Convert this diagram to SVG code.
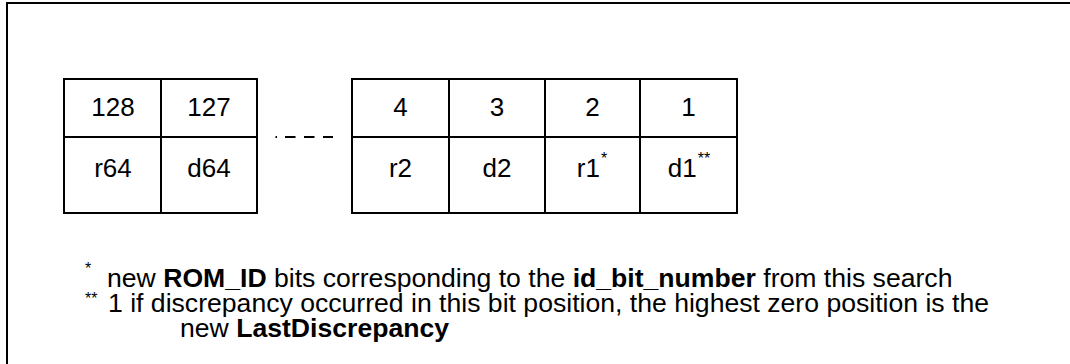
<svg xmlns="http://www.w3.org/2000/svg" width="1070" height="364" viewBox="0 0 1070 364">
  <style>
    .ln{fill:none;stroke:#000;stroke-width:2}
    text{font-family:"Liberation Sans",Arial,Helvetica,sans-serif;font-size:26px;fill:#000}
    .c{text-anchor:middle}
    .s{font-size:16px}
    .bd{font-weight:bold}
    .n{font-size:26.6px}
  </style>

  <!-- outer frame (only left and top edges fall inside the page) -->
  <path id="frame" class="ln" d="M7,366 V3 H1072"/>

  <!-- high-order bit pairs -->
  <g id="table-high">
    <rect class="ln" x="64" y="79" width="193" height="134"/>
    <line class="ln" x1="161" y1="79" x2="161" y2="213"/>
    <line class="ln" x1="64" y1="137" x2="257" y2="137"/>
    <text class="c" x="113" y="116">128</text>
    <text class="c" x="209" y="116">127</text>
    <text class="c" x="113" y="177">r64</text>
    <text class="c" x="209" y="177">d64</text>
  </g>

  <!-- continuation marks between the two tables -->
  <g id="ellipsis">
    <rect x="275.5" y="136" width="1.5" height="2" fill="#000"/>
    <line class="ln" x1="285" y1="137" x2="333" y2="137" stroke-dasharray="10.5 8.5"/>
  </g>

  <!-- low-order bit pairs -->
  <g id="table-low">
    <rect class="ln" x="352" y="79" width="385" height="134"/>
    <line class="ln" x1="449" y1="79" x2="449" y2="213"/>
    <line class="ln" x1="545" y1="79" x2="545" y2="213"/>
    <line class="ln" x1="640" y1="79" x2="640" y2="213"/>
    <line class="ln" x1="352" y1="137" x2="737" y2="137"/>
    <text class="c" x="400.5" y="116">4</text>
    <text class="c" x="497" y="116">3</text>
    <text class="c" x="592.5" y="116">2</text>
    <text class="c" x="688.5" y="116">1</text>
    <text class="c" x="400.5" y="177">r2</text>
    <text class="c" x="497" y="177">d2</text>
    <text class="c" x="592" y="177">r1<tspan class="s" dx="1" dy="-13">*</tspan></text>
    <text class="c" x="689" y="177">d1<tspan class="s" dx="1" dy="-13">**</tspan></text>
  </g>

  <!-- footnotes -->
  <g id="notes">
    <text class="s" x="85" y="274">*</text>
    <text class="n" x="107" y="287">new <tspan class="bd">ROM_ID</tspan> bits corresponding to the <tspan class="bd">id_bit_number</tspan> from this search</text>
    <text class="s" x="85" y="304">**</text>
    <text class="n" x="108" y="312">1 if discrepancy occurred in this bit position, the highest zero position is the</text>
    <text class="n" x="180" y="337">new <tspan class="bd">LastDiscrepancy</tspan></text>
  </g>
</svg>
